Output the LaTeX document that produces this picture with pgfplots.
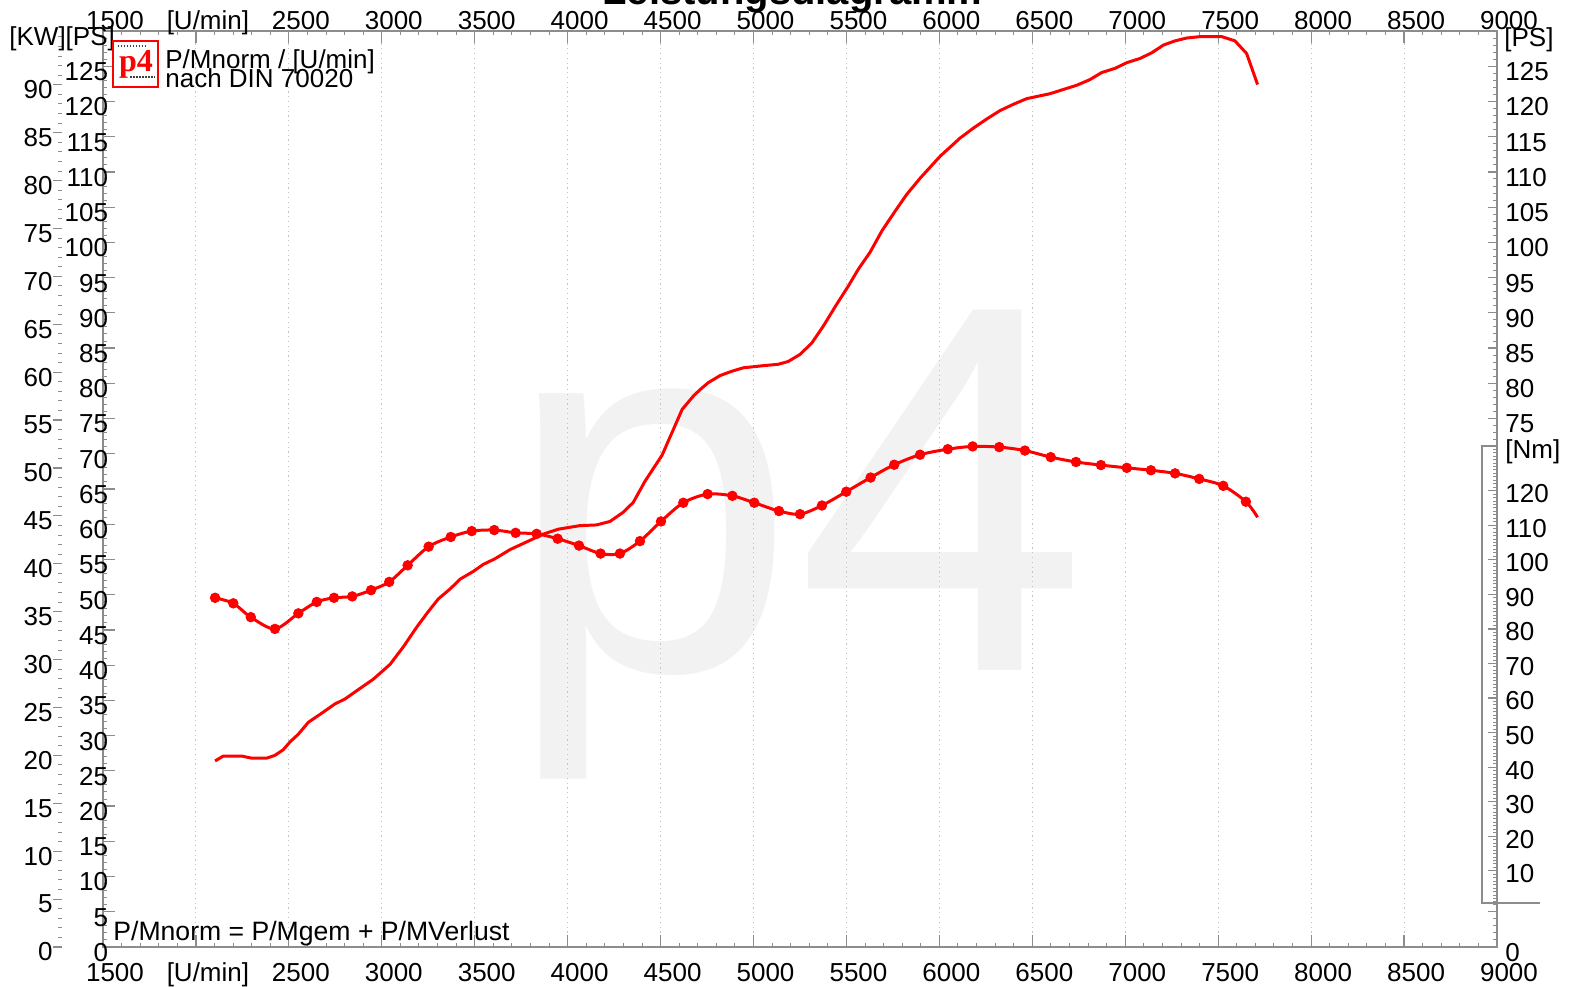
\documentclass[border=0pt]{standalone}
\usepackage{fontspec}
\setmainfont{Liberation Sans}
\newfontfamily\seriffont{Liberation Serif}
\usepackage{pgfplots}
\pgfplotsset{compat=1.18}
\definecolor{axgray}{RGB}{140,140,140}
\definecolor{gridgray}{RGB}{195,195,195}
\definecolor{wm}{RGB}{242,242,242}
\definecolor{pred}{RGB}{255,0,0}

\pgfplotstableread{
rpm ps
2103 26.4
2147 27.1
2246 27.1
2300 26.8
2381 26.8
2425 27.2
2470 28.0
2506 29.1
2551 30.2
2605 31.9
2667 33.0
2748 34.5
2802 35.2
2883 36.7
2954 38.0
3044 40.1
3116 42.6
3188 45.4
3250 47.6
3304 49.4
3367 50.8
3421 52.2
3492 53.3
3546 54.3
3609 55.1
3690 56.4
3780 57.5
3869 58.6
3950 59.3
4066 59.8
4156 59.9
4228 60.4
4299 61.7
4353 63.1
4416 66.1
4508 69.8
4616 76.3
4680 78.3
4721 79.3
4757 80.1
4820 81.1
4882 81.7
4945 82.2
5052 82.5
5133 82.7
5187 83.1
5250 84.1
5313 85.7
5375 88.1
5447 91.2
5510 93.8
5564 96.2
5627 98.6
5690 101.6
5761 104.4
5824 106.8
5896 109.1
6003 112.2
6111 114.8
6182 116.2
6254 117.5
6326 118.7
6398 119.6
6470 120.4
6595 121.1
6667 121.7
6739 122.3
6810 123.1
6873 124.1
6945 124.7
7008 125.5
7079 126.1
7142 126.9
7205 128.0
7268 128.6
7330 129.0
7402 129.2
7519 129.2
7590 128.6
7653 126.8
7712 122.4
}\powertable

\pgfplotstableread{
rpm nm
2103 89.0
2201 87.4
2295 83.4
2425 80.0
2551 84.5
2650 87.8
2743 89.0
2841 89.4
2942 91.2
3040 93.6
3139 98.4
3252 103.8
3371 106.6
3484 108.3
3605 108.6
3720 107.8
3833 107.5
3946 106.1
4061 104.1
4177 101.8
4281 101.8
4389 105.4
4502 111.1
4622 116.5
4753 119.0
4886 118.5
5004 116.5
5137 114.1
5250 113.2
5368 115.7
5499 119.7
5630 123.8
5757 127.5
5896 130.4
6045 132.0
6179 132.8
6322 132.6
6460 131.6
6599 129.7
6735 128.3
6869 127.4
7008 126.6
7138 125.9
7268 125.0
7398 123.4
7527 121.4
7649 116.8
}\torquedots

\pgfplotstableread{
rpm nm
2103 89.0
2201 87.4
2295 83.4
2425 80.0
2551 84.5
2650 87.8
2743 89.0
2841 89.4
2942 91.2
3040 93.6
3139 98.4
3252 103.8
3371 106.6
3484 108.3
3605 108.6
3720 107.8
3833 107.5
3946 106.1
4061 104.1
4177 101.8
4281 101.8
4389 105.4
4502 111.1
4622 116.5
4753 119.0
4886 118.5
5004 116.5
5137 114.1
5250 113.2
5368 115.7
5499 119.7
5630 123.8
5757 127.5
5896 130.4
6045 132.0
6179 132.8
6322 132.6
6460 131.6
6599 129.7
6735 128.3
6869 127.4
7008 126.6
7138 125.9
7268 125.0
7398 123.4
7527 121.4
7649 116.8
7712 112.3
}\torqueline

\pgfplotsset{
  /pgf/number format/assume math mode=true,
  dyno/.style={
    at={(51.5pt,19.5pt)}, anchor=south west, scale only axis,
    width=697pt, height=458pt, xmin=1500, xmax=9000,
    axis line style={draw=axgray, line width=0.75pt},
    every non boxed x axis/.append style={x axis line style=-},
    every non boxed y axis/.append style={y axis line style=-},
    every tick/.style={draw=axgray, line width=0.6pt},
    every minor tick/.style={draw=axgray, line width=0.5pt},
    tick label style={font=\fontsize{13}{15}\selectfont, text=black},
  },
}

\begin{document}
\begin{tikzpicture}
% watermark
\node[anchor=base, text=wm, font=\fontsize{262}{262}\selectfont, inner sep=0pt] at (398.5pt,158pt) {p4};

% main axis: PS on the left, rpm at the bottom, power curve
\begin{axis}[dyno, ymin=0, ymax=130,
  xtick={1500,2000,...,9000},
  xticklabels={1500,{[U/min]},2500,3000,3500,4000,4500,5000,5500,6000,6500,7000,7500,8000,8500,9000},
  minor xtick={1500,1600,...,9000},
  xtick pos=both, xticklabel pos=lower,
  ytick={0,5,...,125}, minor ytick={0,1,...,130},
  ytick pos=left,
  tick align=inside,
  major tick length=6pt, minor tick length=1.85pt,
  xticklabel style={anchor=base, inner sep=0pt, yshift=-17pt, xshift=6pt},
  yticklabel style={anchor=east, inner sep=0pt, xshift=2.75pt, yshift=-2.75pt},
  xmajorgrids,
  major x grid style={draw=gridgray, line width=0.5pt, dash pattern=on 0.6pt off 1.8pt},
]
\addplot[pred, line width=1.5pt, line join=round] table[x=rpm, y=ps] {\powertable};
\end{axis}

% top rpm labels
\begin{axis}[dyno, ymin=0, ymax=130,
  axis x line*=top, axis y line=none,
  xtick={1500,2000,...,9000},
  xticklabels={1500,{[U/min]},2500,3000,3500,4000,4500,5000,5500,6000,6500,7000,7500,8000,8500,9000},
  xtick style={draw=none},
  xticklabel style={anchor=base, inner sep=0pt, yshift=0.6pt, xshift=6pt},
]
\end{axis}

% KW scale (outer left)
\begin{axis}[at={(31pt,19.5pt)}, anchor=south west, scale only axis,
  width=10pt, height=458pt, xmin=0, xmax=1, ymin=0, ymax=95.6148,
  axis x line=none, axis y line*=left,
  every non boxed y axis/.append style={y axis line style=-},
  y axis line style={draw=none},
  ytick={0,5,...,90}, minor ytick={0,1,...,95},
  tick align=outside, major tick length=4.5pt, minor tick length=2pt,
  every tick/.style={draw=axgray, line width=0.6pt},
  every minor tick/.style={draw=axgray, line width=0.5pt},
  tick label style={font=\fontsize{13}{15}\selectfont, text=black},
  /pgf/number format/assume math mode=true,
  yticklabel style={inner sep=0pt, yshift=-2.5pt},
]
\end{axis}

% right PS scale
\begin{axis}[dyno, ymin=0, ymax=130,
  axis x line=none, axis y line*=right,
  ytick={0,75,80,...,125},
  extra y ticks={5,10,...,70}, extra y tick labels={},
  minor ytick={0,1,...,130},
  tick align=inside, major tick length=4.5pt, minor tick length=2pt,
  yticklabel style={anchor=west, inner sep=0pt, xshift=4pt, yshift=-2.75pt},
]
\end{axis}

% Nm box
\fill[white] (741pt,41.5pt) rectangle (748.1pt,270pt);
\draw[axgray, line width=0.75pt] (748.5pt,270pt) -- (741pt,270pt) -- (741pt,41.5pt) -- (770pt,41.5pt);

% Nm scale and torque curve
\begin{axis}[dyno, ymin=-12.04, ymax=253.0,
  axis x line=none, axis y line*=right,
  ytick={10,20,...,120}, minor ytick={1,2,...,132},
  tick align=inside, major tick length=4.5pt, minor tick length=2pt,
  yticklabel style={anchor=west, inner sep=0pt, xshift=4pt, yshift=-1.5pt},
]
\addplot[pred, line width=1.5pt, smooth, tension=0.5] table[x=rpm, y=nm] {\torqueline};
\addplot[pred, only marks, mark=*, mark size=2.4pt, mark options={fill=pred, draw=pred}] table[x=rpm, y=nm] {\torquedots};
\end{axis}

% texts
\node[anchor=base, inner sep=0pt, font=\fontsize{20}{24}\selectfont\bfseries] at (396.25pt,490.5pt) {Leistungsdiagramm};
\node[anchor=base west, inner sep=0pt, font=\fontsize{13}{15}\selectfont] at (4.5pt,470pt) {[KW][PS]};
\node[anchor=base west, inner sep=0pt, font=\fontsize{13}{15}\selectfont] at (752pt,469.75pt) {[PS]};
\node[anchor=base west, inner sep=0pt, font=\fontsize{13}{15}\selectfont] at (752.5pt,263.5pt) {[Nm]};
\node[anchor=base west, inner sep=0pt, font=\fontsize{13}{15}\selectfont] at (82.5pt,458.5pt) {P/Mnorm / [U/min]};
\node[anchor=base west, inner sep=0pt, font=\fontsize{13}{15}\selectfont] at (82.5pt,449pt) {nach DIN 70020};
\node[anchor=base west, inner sep=0pt, font=\fontsize{13.3}{15}\selectfont] at (56.5pt,23pt) {P/Mnorm = P/Mgem + P/MVerlust};

% logo
\draw[pred, line width=1pt, fill=white] (56.65pt,449.65pt) rectangle (79.15pt,472.5pt);
\node[anchor=base, text=pred, inner sep=0pt, font={\seriffont\bfseries\fontsize{16}{16}\selectfont}] at (68pt,457.2pt) {p4};
\draw[black!75, line width=0.8pt, dash pattern=on 0.8pt off 0.7pt] (58.8pt,470pt) -- (72.5pt,470pt);
\draw[black!75, line width=0.8pt, dash pattern=on 0.8pt off 0.7pt] (65pt,454.4pt) -- (77.3pt,454.4pt);

\pgfresetboundingbox
\path[use as bounding box] (0,0) rectangle (786.5pt,493pt);
\end{tikzpicture}
\end{document}
